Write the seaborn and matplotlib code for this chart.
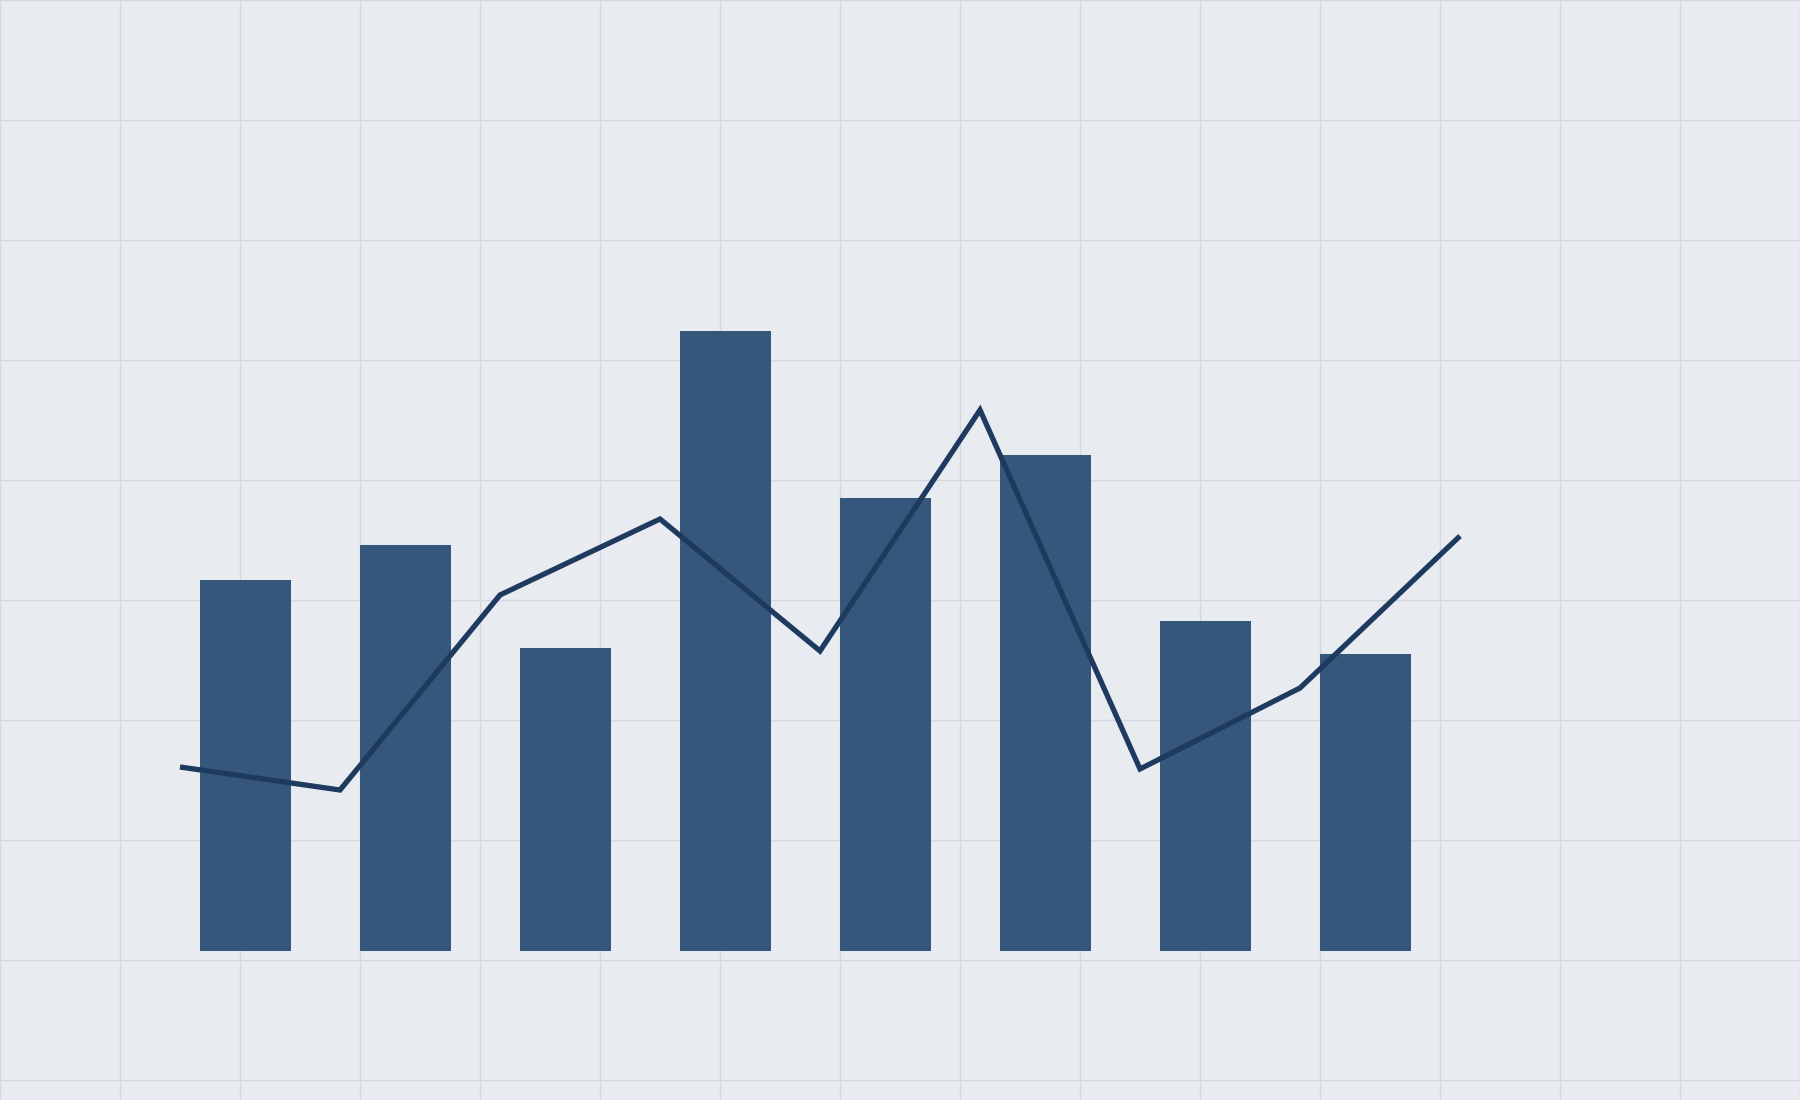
import numpy as np
import matplotlib.pyplot as plt
import seaborn as sns

# values (no axis labels, arbitrary units)
bar_idx = [0, 1, 2, 3, 4, 5, 6, 7]
bar_values = [74.2, 81.2, 60.6, 124.0, 90.6, 99.2, 66.0, 59.4]
line_idx = [0, 1, 2, 3, 4, 5, 6, 7, 8]
line_values = [36.8, 32.2, 71.2, 86.4, 60.0, 108.2, 36.4, 52.6, 83.0]

BG = "#e8ebf0"
GRID = "#d3d7de"
BAR = "#35577b"
LINE = "#1e3a5f"
BAR_OFFSET = 0.41
BAR_WIDTH = 0.57

sns.set_theme(style="white")

fig = plt.figure(figsize=(18, 11), dpi=100)
fig.patch.set_facecolor(BG)

# background grid in pixel space, 120px cells
bg = fig.add_axes([0, 0, 1, 1])
bg.set_facecolor(BG)
bg.set_xlim(0, 1800)
bg.set_ylim(1100, 0)
bg.set_xticks(np.arange(0, 1801, 120))
bg.set_yticks(np.arange(0, 1101, 120))
bg.grid(True, color=GRID, linewidth=1.0)
bg.tick_params(length=0, labelbottom=False, labelleft=False)
for s in bg.spines.values():
    s.set_visible(False)

ax = fig.add_axes([0, 0, 1, 1])
ax.patch.set_alpha(0)
sns.barplot(x=np.array(bar_idx) + BAR_OFFSET, y=bar_values, native_scale=True,
            width=BAR_WIDTH, color=BAR, saturation=1, linewidth=0,
            errorbar=None, ax=ax)
sns.lineplot(x=line_idx, y=line_values, color=LINE, linewidth=3.8,
             solid_capstyle="butt", solid_joinstyle="miter", ax=ax)
ax.set_xlim(-1.125, 10.125)
ax.set_ylim(-29.8, 190.2)
ax.axis("off")

fig.savefig("out.png", dpi=100, facecolor=BG)
plt.close(fig)
